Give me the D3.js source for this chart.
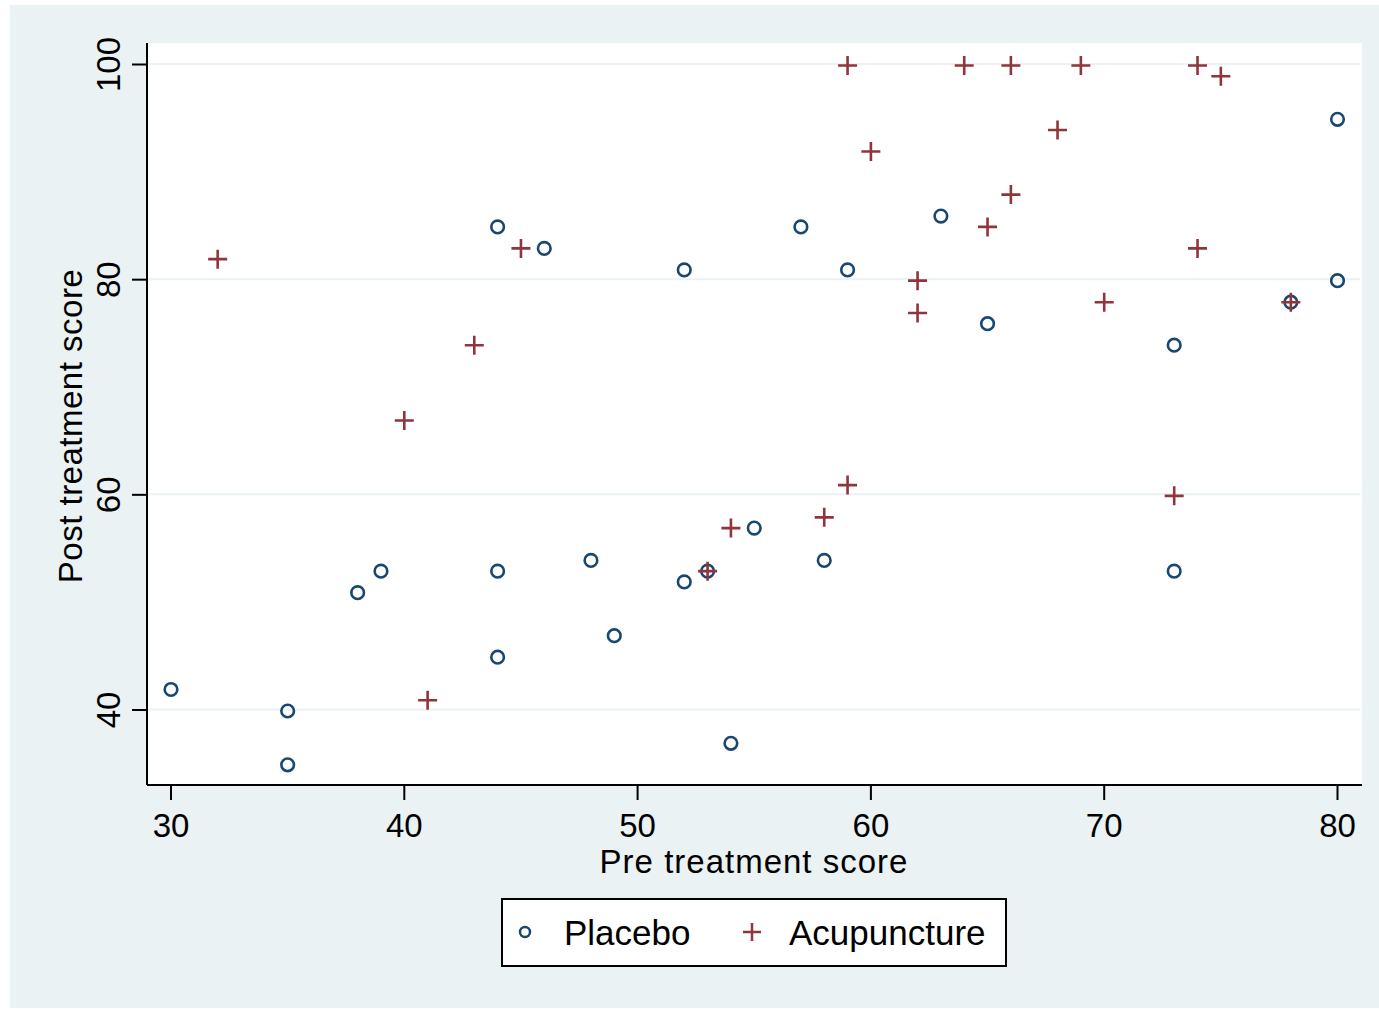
<!DOCTYPE html>
<html>
<head>
<meta charset="utf-8">
<script src="https://cdn.jsdelivr.net/npm/d3@7"></script>
<style>
  body { margin: 0; background: #fff; }
  svg text { font-family: "Liberation Sans", Arial, sans-serif; fill: #000; }
</style>
</head>
<body>
<svg id="chart" width="1379" height="1009"></svg>
<script>
// pre / post treatment scores
const placeboPre  = [30, 35, 35, 38, 39, 44, 44, 44, 46, 48, 49, 52, 52, 53, 54, 55, 57, 58, 59, 63, 65, 73, 73, 78, 80, 80];
const placeboPost = [42, 40, 35, 51, 53, 85, 53, 45, 83, 54, 47, 81, 52, 53, 37, 57, 85, 54, 81, 86, 76, 74, 53, 78, 95, 80];
const acuPre  = [32, 40, 41, 43, 45, 53, 54, 58, 59, 59, 60, 62, 62, 64, 65, 66, 66, 68, 69, 70, 73, 74, 74, 75, 78];
const acuPost = [82, 67, 41, 74, 83, 53, 57, 58, 61, 100, 92, 80, 77, 100, 85, 100, 88, 94, 100, 78, 60, 100, 83, 99, 78];
const xTicks = [30, 40, 50, 60, 70, 80];
const yTicks = [40, 60, 80, 100];

const navy = "#1a476f";
const maroon = "#90353b";
const bg = "#eaf2f3";

const svg = d3.select("#chart");

// outer graph region
svg.append("rect").attr("x", 10).attr("y", 5).attr("width", 1369).attr("height", 1003).attr("fill", bg);

const plot = { left: 147, right: 1362, top: 43, bottom: 785 };
svg.append("rect")
  .attr("x", plot.left).attr("y", plot.top)
  .attr("width", plot.right - plot.left).attr("height", plot.bottom - plot.top)
  .attr("fill", "#fff");

const xScale = d3.scaleLinear().domain([30, 80]).range([170.5, 1337]);
const yScale = d3.scaleLinear().domain([40, 100]).range([709.5, 64]);

// gridlines
svg.append("g")
  .selectAll("line")
  .data(yTicks)
  .join("line")
  .attr("x1", plot.left).attr("x2", plot.right - 2)
  .attr("y1", d => yScale(d)).attr("y2", d => yScale(d))
  .attr("stroke", bg).attr("stroke-width", 2);

// axes
const xAxis = svg.append("g")
  .attr("transform", `translate(0, ${plot.bottom})`)
  .call(d3.axisBottom(xScale).tickValues(xTicks).tickSize(15).tickPadding(14).tickSizeOuter(0));
xAxis.select(".domain").attr("d", `M${plot.left},0H${plot.right}`).attr("stroke", "#000").attr("stroke-width", 2);
xAxis.selectAll(".tick line").attr("stroke", "#000").attr("stroke-width", 2);
xAxis.selectAll(".tick text").attr("font-size", 33).attr("fill", "#000");

const yAxis = svg.append("g")
  .attr("transform", `translate(${plot.left}, 0)`)
  .call(d3.axisLeft(yScale).tickValues(yTicks).tickSize(15).tickSizeOuter(0));
yAxis.select(".domain").attr("d", `M0,${plot.top}V${plot.bottom}`).attr("stroke", "#000").attr("stroke-width", 2);
yAxis.selectAll(".tick line").attr("stroke", "#000").attr("stroke-width", 2);
yAxis.selectAll(".tick text")
  .attr("font-size", 33).attr("fill", "#000")
  .attr("x", null).attr("dy", null)
  .attr("text-anchor", "middle")
  .attr("transform", "translate(-27, 0) rotate(-90)");

// axis titles
svg.append("text")
  .attr("x", 754).attr("y", 873)
  .attr("text-anchor", "middle").attr("font-size", 33).attr("letter-spacing", 1)
  .text("Pre treatment score");
svg.append("text")
  .attr("transform", "translate(82, 426) rotate(-90)")
  .attr("text-anchor", "middle").attr("font-size", 33).attr("letter-spacing", 0.5)
  .text("Post treatment score");

// markers (Stata draws them a hair below the grid)
const placebo = placeboPre.map((x, i) => ({ x, y: placeboPost[i] }));
const acu = acuPre.map((x, i) => ({ x, y: acuPost[i] }));
const marks = svg.append("g").attr("transform", "translate(0.5, 1.5)");

marks.append("g")
  .selectAll("circle")
  .data(placebo)
  .join("circle")
  .attr("cx", d => xScale(d.x))
  .attr("cy", d => yScale(d.y))
  .attr("r", 6.3)
  .attr("fill", "none")
  .attr("stroke", navy)
  .attr("stroke-width", 2.6);

marks.append("g")
  .selectAll("path")
  .data(acu)
  .join("path")
  .attr("transform", d => `translate(${xScale(d.x)}, ${yScale(d.y)})`)
  .attr("d", "M-9.5,0H9.5M0,-9.5V9.5")
  .attr("stroke", maroon)
  .attr("stroke-width", 2.6)
  .attr("fill", "none");

// legend
const legend = svg.append("g");
legend.append("rect")
  .attr("x", 502).attr("y", 899).attr("width", 504).attr("height", 67)
  .attr("fill", "#fff").attr("stroke", "#000").attr("stroke-width", 2);
legend.append("circle")
  .attr("cx", 525).attr("cy", 932).attr("r", 5)
  .attr("fill", "none").attr("stroke", navy).attr("stroke-width", 2.5);
legend.append("text").attr("x", 564).attr("y", 945).attr("font-size", 35).text("Placebo");
legend.append("path")
  .attr("transform", "translate(752, 932)")
  .attr("d", "M-9,0H9M0,-9V9")
  .attr("stroke", maroon).attr("stroke-width", 2.5).attr("fill", "none");
legend.append("text").attr("x", 789).attr("y", 945).attr("font-size", 35).text("Acupuncture");
</script>
</body>
</html>
